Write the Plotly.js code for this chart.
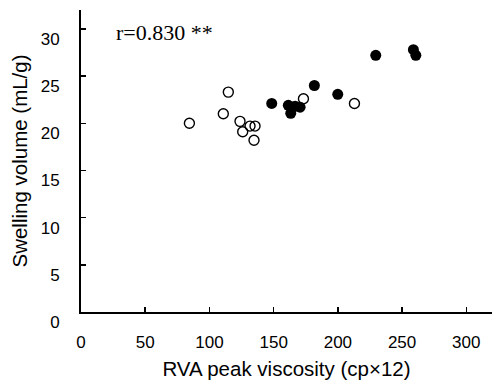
<!DOCTYPE html>
<html>
<head>
<meta charset="utf-8">
<script src="https://cdn.plot.ly/plotly-3.0.1.min.js"></script>
<style>html,body{margin:0;padding:0;background:#fff;}#chart{width:492px;height:392px;}</style>
</head>
<body>
<div id="chart"></div>
<script>
// Open circles
const openX = [84.4, 114.7, 110.8, 123.8, 125.9, 131.6, 135.5, 134.7, 173.2, 212.9];
const openY = [20.0, 23.3, 21.0, 20.2, 19.1, 19.7, 19.7, 18.2, 22.6, 22.1];
// Filled circles
const filledX = [148.5, 161.4, 163.3, 166.7, 170.6, 181.7, 199.9, 229.5, 258.8, 260.7];
const filledY = [22.1, 21.9, 21.05, 21.8, 21.7, 24.0, 23.07, 27.2, 27.8, 27.2];
const xTicks = [0, 50, 100, 150, 200, 250, 300];
const yTicks = [0, 5, 10, 15, 20, 25, 30];
const corrText = "r=0.830 **";

const traces = [
  {x: openX, y: openY, type: 'scatter', mode: 'markers',
   marker: {symbol: 'circle-open', size: 10, color: '#000', line: {width: 1.4, color: '#000'}}},
  {x: filledX, y: filledY, type: 'scatter', mode: 'markers',
   marker: {symbol: 'circle', size: 11, color: '#000'}}
];

const tickFont = {family: 'Liberation Sans, Arial, sans-serif', size: 17, color: '#000'};
const titleFont = {family: 'Liberation Sans, Arial, sans-serif', size: 20.5, color: '#000'};
const layout = {
  width: 492, height: 392,
  margin: {l: 81, r: 0, t: 10, b: 80},
  paper_bgcolor: '#fff', plot_bgcolor: '#fff',
  showlegend: false,
  xaxis: {
    range: [0, 320], tickmode: 'array', tickvals: xTicks, ticktext: xTicks.map(String),
    showgrid: false, zeroline: false, showline: true, linecolor: '#000', linewidth: 2,
    ticks: 'inside', ticklen: 5, tickwidth: 1.5, tickcolor: '#000',
    tickfont: tickFont, ticklabelstandoff: 14,
    title: {text: 'RVA peak viscosity (cp×12)', font: titleFont, standoff: 10}
  },
  yaxis: {
    range: [0, 32], tickmode: 'array', tickvals: yTicks, ticktext: yTicks.map(String),
    showgrid: false, zeroline: false, showline: true, linecolor: '#000', linewidth: 2,
    ticks: 'inside', ticklen: 5, tickwidth: 1.5, tickcolor: '#000',
    tickfont: tickFont, ticklabelstandoff: 16, ticklabelshift: 10,
    title: {text: 'Swelling volume (mL/g)', font: titleFont, standoff: 8}
  },
  annotations: [{
    x: 25.5, y: 29.6, xref: 'x', yref: 'y', xanchor: 'left', yanchor: 'middle',
    text: corrText, showarrow: false,
    font: {family: 'Liberation Serif, Times New Roman, serif', size: 22, color: '#000'}
  }]
};

Plotly.newPlot('chart', traces, layout, {displayModeBar: false, staticPlot: true});
</script>
</body>
</html>
